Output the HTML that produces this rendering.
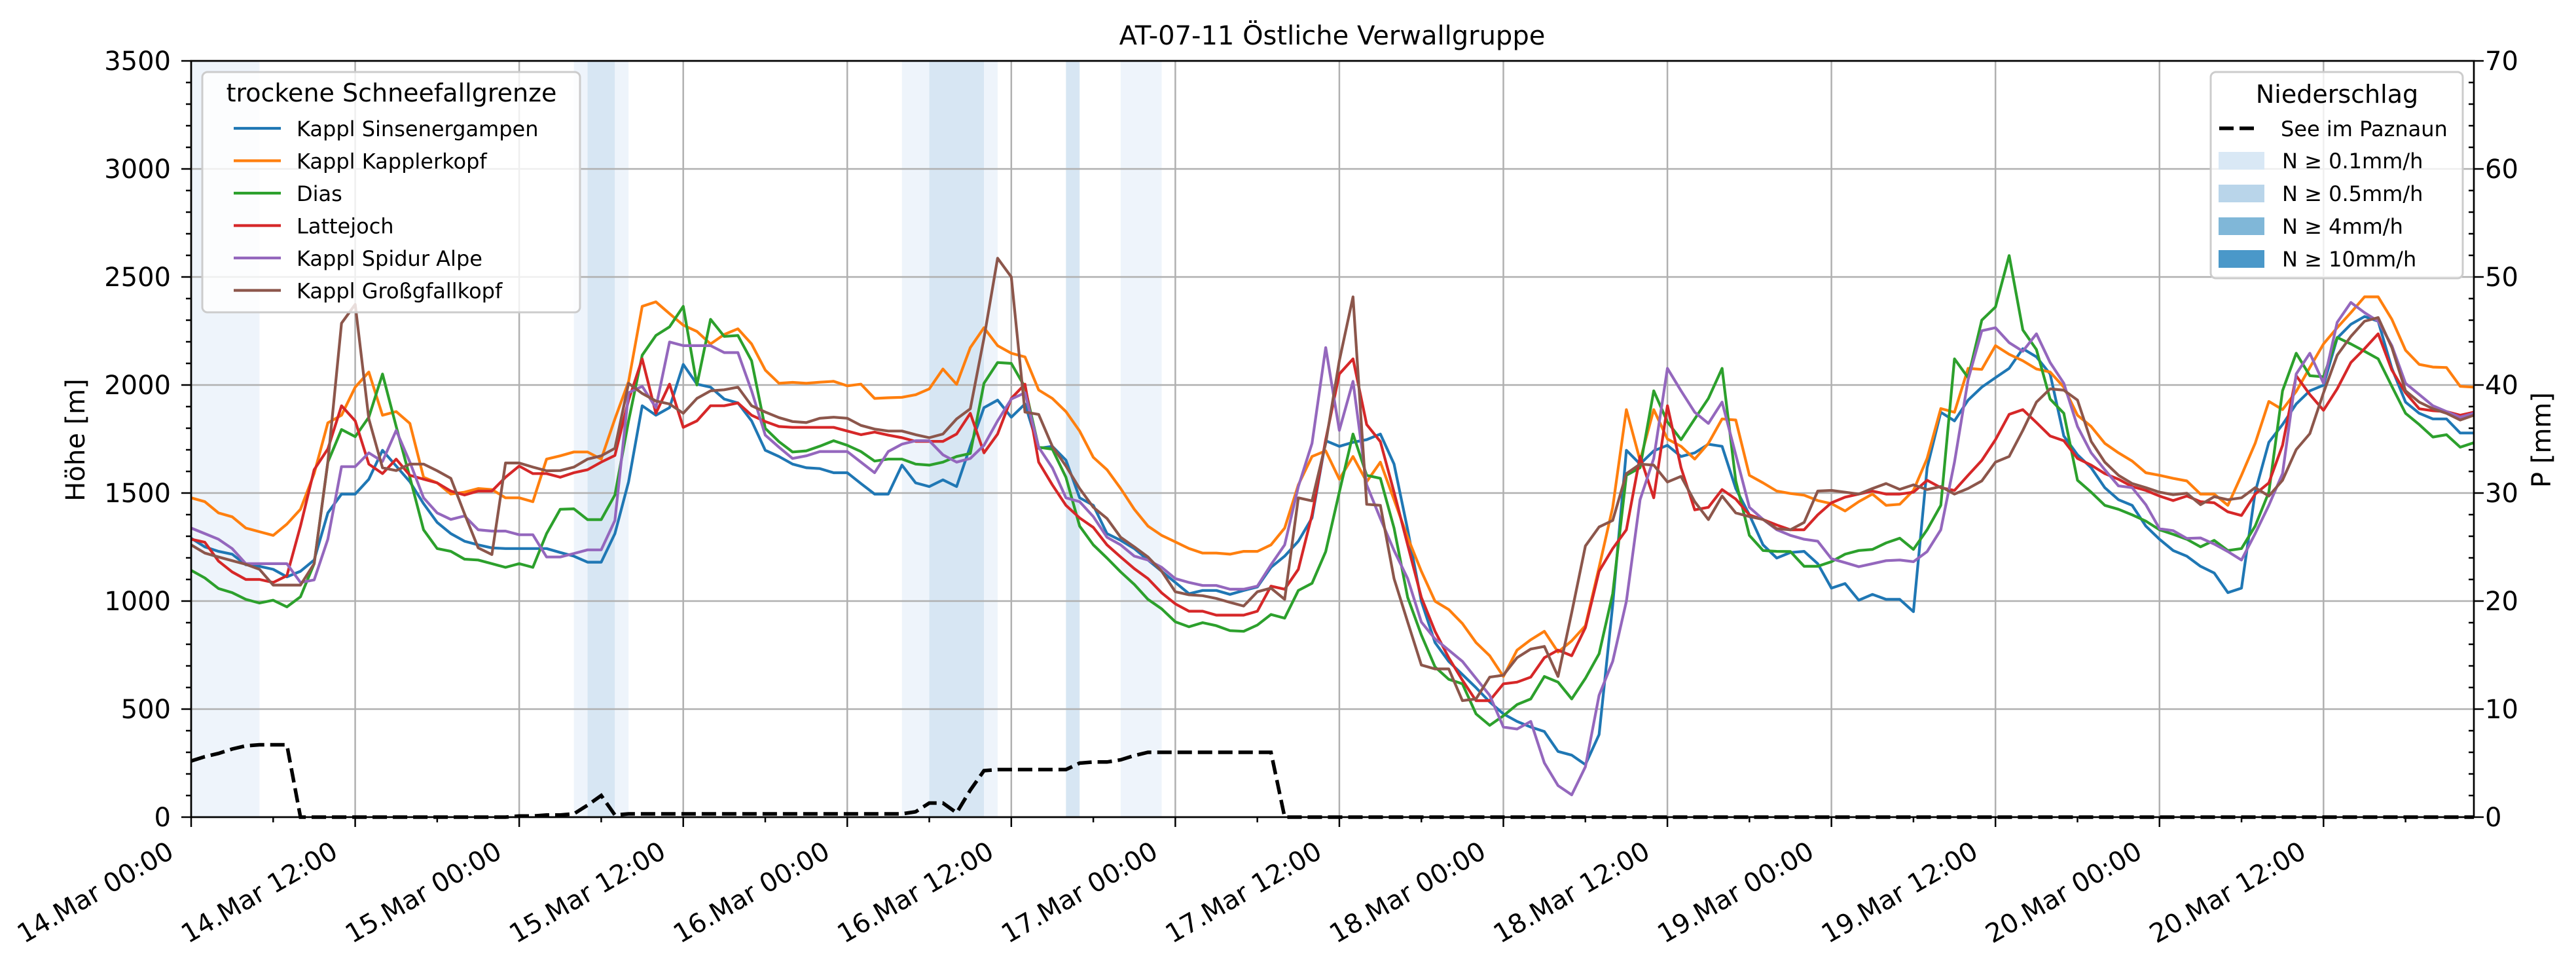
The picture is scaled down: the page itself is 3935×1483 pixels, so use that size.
<!DOCTYPE html>
<html><head><meta charset="utf-8"><title>AT-07-11 Östliche Verwallgruppe</title>
<style>
html,body{margin:0;padding:0;background:#fff;}
svg{display:block;font-family:"DejaVu Sans","Liberation Sans",sans-serif;}
</style></head>
<body>
<svg id="chart" xmlns="http://www.w3.org/2000/svg" width="3935" height="1483" viewBox="0 0 3935 1483">
<rect x="0" y="0" width="3935" height="1483" fill="#ffffff"/>
<text x="2035" y="68" font-size="40" text-anchor="middle">AT-07-11 Östliche Verwallgruppe</text>
<text x="0" y="0" font-size="40" text-anchor="middle" transform="translate(129,672) rotate(-90)">Höhe [m]</text>
<text x="0" y="0" font-size="40" text-anchor="middle" transform="translate(3896,672) rotate(-90)">P [mm]</text>
<g id="bands"></g>
<g id="grid"></g>
<g id="series"></g>
<g id="axes"></g>
<g id="legends"></g>
</svg>
<script>
// ---- data ----
const xTickLabels = ["14.Mar 00:00","14.Mar 12:00","15.Mar 00:00","15.Mar 12:00","16.Mar 00:00","16.Mar 12:00","17.Mar 00:00","17.Mar 12:00","18.Mar 00:00","18.Mar 12:00","19.Mar 00:00","19.Mar 12:00","20.Mar 00:00","20.Mar 12:00"];
const yTicks = [0,500,1000,1500,2000,2500,3000,3500];
const y2Ticks = [0,10,20,30,40,50,60,70];
const seriesNames = ["Kappl Sinsenergampen","Kappl Kapplerkopf","Dias","Lattejoch","Kappl Spidur Alpe","Kappl Großgfallkopf"];
const seriesColors = ["#1f77b4","#ff7f0e","#2ca02c","#d62728","#9467bd","#8c564b"];
const sinsenergampen = [1291,1251,1230,1217,1168,1161,1147,1112,1138,1190,1408,1495,1495,1564,1698,1625,1552,1451,1364,1312,1277,1260,1246,1243,1243,1243,1243,1225,1208,1180,1180,1312,1552,1904,1860,1895,2095,2004,1990,1935,1917,1834,1698,1669,1634,1617,1613,1594,1594,1544,1495,1495,1629,1547,1530,1561,1530,1717,1895,1930,1851,1912,1707,1716,1652,1478,1443,1312,1281,1243,1190,1138,1086,1034,1049,1049,1031,1049,1065,1156,1208,1277,1385,1742,1716,1735,1747,1773,1634,1330,999,808,721,660,599,533,478,443,417,396,304,287,243,382,982,1698,1634,1695,1721,1669,1686,1726,1716,1521,1399,1260,1199,1225,1230,1173,1060,1081,1004,1031,1008,1008,951,1617,1874,1834,1930,1990,2034,2077,2168,2130,2051,1764,1677,1617,1525,1469,1443,1347,1286,1234,1208,1161,1130,1039,1060,1504,1735,1817,1912,1973,1999,2217,2281,2317,2295,2077,1921,1869,1843,1843,1778,1778];
const kapplerkopf = [1478,1460,1408,1390,1338,1321,1304,1356,1425,1590,1825,1860,1990,2060,1860,1877,1822,1573,1547,1495,1504,1521,1516,1478,1478,1460,1657,1672,1690,1690,1657,1843,2016,2364,2385,2330,2277,2248,2190,2234,2260,2190,2069,2008,2012,2008,2013,2017,1996,2004,1938,1941,1943,1955,1982,2074,2003,2173,2265,2182,2147,2130,1977,1938,1877,1787,1665,1608,1521,1425,1347,1304,1274,1243,1222,1222,1217,1230,1230,1260,1338,1538,1669,1695,1564,1669,1552,1643,1469,1295,1138,999,961,896,808,747,651,773,821,860,764,816,886,1156,1434,1886,1651,1886,1750,1716,1657,1730,1843,1838,1582,1547,1509,1498,1490,1465,1451,1417,1460,1495,1443,1448,1512,1660,1891,1874,2077,2072,2182,2142,2112,2074,2060,1990,1860,1808,1730,1686,1648,1594,1582,1568,1556,1495,1495,1443,1582,1730,1924,1886,1970,2081,2190,2265,2335,2408,2408,2304,2161,2095,2083,2081,1994,1990];
const dias = [1142,1107,1058,1039,1008,991,1004,973,1020,1173,1643,1794,1761,1851,2051,1808,1573,1330,1243,1230,1194,1190,1173,1156,1173,1156,1312,1425,1427,1377,1377,1491,1834,2138,2229,2269,2364,2000,2304,2225,2229,2112,1799,1738,1690,1695,1717,1742,1721,1692,1648,1657,1657,1634,1629,1643,1669,1683,2008,2104,2100,1990,1712,1703,1573,1347,1260,1199,1135,1077,1008,964,904,881,900,886,863,860,889,938,921,1049,1082,1229,1504,1773,1582,1568,1338,1017,843,695,638,617,478,425,469,521,547,651,625,547,642,756,1034,1582,1617,1973,1829,1747,1843,1938,2077,1556,1304,1234,1230,1229,1161,1161,1182,1217,1234,1239,1269,1291,1239,1330,1443,2121,2034,2300,2361,2599,2255,2164,1935,1869,1559,1504,1443,1425,1399,1370,1330,1309,1286,1251,1281,1234,1243,1347,1504,1973,2147,2043,2038,2220,2190,2156,2121,1994,1869,1817,1759,1770,1712,1733];
const lattejoch = [1286,1272,1185,1135,1100,1100,1086,1117,1347,1608,1704,1904,1834,1634,1590,1657,1582,1564,1547,1509,1491,1509,1509,1573,1625,1590,1590,1573,1594,1608,1643,1674,1930,2121,1869,2004,1804,1834,1904,1904,1917,1860,1831,1808,1804,1804,1804,1804,1787,1770,1782,1768,1756,1739,1739,1739,1773,1869,1686,1773,1938,2004,1643,1538,1443,1385,1341,1260,1204,1150,1104,1038,987,953,953,935,935,935,953,1069,1055,1147,1399,1747,2051,2121,1817,1738,1504,1260,1017,860,738,634,539,539,617,625,648,738,773,747,877,1138,1243,1330,1669,1478,1904,1617,1422,1434,1516,1472,1399,1377,1352,1330,1330,1399,1455,1481,1495,1509,1495,1495,1504,1559,1525,1512,1582,1651,1747,1864,1886,1826,1764,1742,1660,1629,1590,1564,1530,1512,1486,1465,1486,1460,1455,1413,1396,1495,1547,1721,2043,1956,1883,1982,2104,2168,2237,2069,1964,1890,1881,1877,1860,1874];
const spidurAlpe = [1338,1312,1286,1243,1173,1173,1173,1173,1086,1098,1286,1622,1622,1686,1646,1790,1643,1478,1408,1378,1394,1330,1324,1324,1307,1307,1204,1204,1220,1237,1237,1373,1964,1994,1895,2199,2182,2182,2182,2150,2150,1973,1768,1712,1660,1672,1692,1692,1692,1643,1594,1692,1726,1742,1742,1677,1643,1660,1721,1834,1935,1964,1712,1617,1478,1460,1391,1295,1260,1208,1190,1156,1104,1086,1072,1072,1055,1055,1069,1168,1260,1530,1730,2173,1790,2017,1538,1382,1234,1104,903,825,773,721,642,564,417,408,443,251,146,103,233,564,721,999,1469,1660,2077,1973,1874,1822,1921,1677,1434,1378,1330,1304,1286,1277,1196,1178,1159,1173,1187,1190,1182,1229,1330,1643,2025,2251,2265,2196,2156,2237,2104,2008,1808,1686,1608,1533,1525,1446,1335,1326,1290,1292,1264,1229,1190,1312,1443,1590,2051,2147,2008,2290,2382,2335,2295,2182,2008,1956,1904,1877,1851,1869];
const grossgfallkopf = [1260,1222,1204,1187,1170,1147,1074,1074,1074,1173,1643,2286,2373,1843,1617,1604,1634,1634,1603,1568,1404,1246,1215,1639,1639,1620,1603,1604,1620,1657,1672,1707,2008,1961,1926,1912,1869,1938,1973,1978,1990,1904,1875,1849,1831,1826,1846,1851,1846,1813,1796,1787,1787,1770,1756,1773,1843,1890,2217,2587,2500,1875,1864,1716,1625,1521,1434,1382,1295,1251,1204,1138,1043,1029,1025,1012,994,977,1043,1060,1008,1478,1464,1730,2112,2408,1448,1443,1104,903,704,686,686,539,547,648,657,738,778,790,651,947,1255,1343,1373,1590,1634,1629,1551,1577,1460,1377,1486,1408,1391,1378,1335,1330,1364,1509,1512,1504,1495,1521,1544,1517,1538,1516,1530,1495,1521,1556,1643,1669,1790,1921,1982,1976,1930,1739,1643,1582,1544,1525,1504,1492,1499,1446,1483,1469,1478,1525,1486,1559,1701,1775,1964,2138,2225,2295,2312,2173,1973,1921,1890,1869,1838,1860];
const precipSee = [5.2,5.6,5.9,6.3,6.6,6.7,6.7,6.7,0,0,0,0,0,0,0,0,0,0,0,0,0,0,0,0,0.1,0.1,0.2,0.2,0.3,1.1,2.0,0.2,0.3,0.3,0.3,0.3,0.3,0.3,0.3,0.3,0.3,0.3,0.3,0.3,0.3,0.3,0.3,0.3,0.3,0.3,0.3,0.3,0.3,0.5,1.3,1.3,0.4,2.5,4.3,4.4,4.4,4.4,4.4,4.4,4.4,5.0,5.1,5.1,5.3,5.7,6.0,6.0,6.0,6.0,6.0,6.0,6.0,6.0,6.0,6.0,0,0,0,0,0,0,0,0,0,0,0,0,0,0,0,0,0,0,0,0,0,0,0,0,0,0,0,0,0,0,0,0,0,0,0,0,0,0,0,0,0,0,0,0,0,0,0,0,0,0,0,0,0,0,0,0,0,0,0,0,0,0,0,0,0,0,0,0,0,0,0,0,0,0,0,0,0,0,0,0,0,0,0,0,0,0,0,0];
const bandStarts = [0,28,29,31,52,54,58,64,68];
const bandEnds   = [5,29,31,32,54,58,59,65,71];
const bandLevels = [0,0,1,0,0,1,0,1,0];
const precipLegendLabels = ["N ≥ 0.1mm/h","N ≥ 0.5mm/h","N ≥ 4mm/h","N ≥ 10mm/h"];

// ---- geometry ----
const NS="http://www.w3.org/2000/svg";
const L=292,R=3779,T=93,B=1248,HMAX=167;
const xs=h=>L+(R-L)*h/HMAX;
const ys=v=>B-(B-T)*v/3500;
const ys2=p=>B-(B-T)*p/70;
function mk(tag,attrs,parent){const e=document.createElementNS(NS,tag);for(const k in attrs)e.setAttribute(k,attrs[k]);parent.appendChild(e);return e;}
const gB=document.getElementById('bands'),gG=document.getElementById('grid'),gS=document.getElementById('series'),gA=document.getElementById('axes'),gL=document.getElementById('legends');
const bandFill=["#eef4fb","#d7e6f3"];

bandStarts.forEach((s,i)=>{
  const r=mk('rect',{x:xs(s),y:T,width:xs(bandEnds[i])-xs(s),height:B-T,fill:bandFill[bandLevels[i]]},gB);
  
  
});
// grid
xTickLabels.forEach((lab,i)=>{
  const x=xs(i*12);
  const l=mk('line',{x1:x,x2:x,y1:T,y2:B,stroke:"#b0b0b0","stroke-width":2.5},gG);
  
  
});
yTicks.forEach(v=>{
  const y=ys(v);
  const l=mk('line',{x1:L,x2:R,y1:y,y2:y,stroke:"#b0b0b0","stroke-width":2.5},gG);
  
  
});
// series
const allSeries=[sinsenergampen,kapplerkopf,dias,lattejoch,spidurAlpe,grossgfallkopf];
allSeries.forEach((arr,si)=>{
  const pts=arr.map((v,h)=>xs(h).toFixed(1)+","+ys(v).toFixed(1)).join(" ");
  const p=mk('polyline',{points:pts,fill:"none",stroke:seriesColors[si],"stroke-width":4.2,"stroke-linejoin":"round"},gS);
  
  
});
{
  const pts=precipSee.map((v,h)=>xs(h).toFixed(1)+","+ys2(v).toFixed(1)).join(" ");
  const p=mk('polyline',{points:pts,fill:"none",stroke:"#000","stroke-width":5.5,"stroke-dasharray":"22 9"},gS);
  
  
}
// axes frame
const fr=mk('rect',{x:L,y:T,width:R-L,height:B-T,fill:"none",stroke:"#000","stroke-width":2.7},gA);


// x ticks
for(let h=0;h<=HMAX;h+=6){
  const x=xs(h),maj=h%12===0;
  const t=mk('line',{x1:x,x2:x,y1:B,y2:B+(maj?15:8),stroke:"#000","stroke-width":2.5},gA);
  
  
}
xTickLabels.forEach((lab,i)=>{
  const x=xs(i*12)-24,y=1308;
  const t=mk('text',{x:0,y:0,"font-size":40,"text-anchor":"end",transform:`translate(${x},${y}) rotate(-30)`},gA);
  t.textContent=lab;
  
  
});
// y ticks
for(let v=0;v<=3500;v+=100){
  const y=ys(v),maj=v%500===0;
  const t=mk('line',{x1:L-(maj?15:8),x2:L,y1:y,y2:y,stroke:"#000","stroke-width":2.5},gA);
  
  
}
yTicks.forEach(v=>{
  const t=mk('text',{x:261,y:ys(v)+14,"font-size":40,"text-anchor":"end"},gA);
  t.textContent=String(v);
  
  
});
for(let p=0;p<=70;p+=2){
  const y=ys2(p),maj=p%10===0;
  const t=mk('line',{x1:R-(maj?0:8),x2:R+(maj?15:0),y1:y,y2:y,stroke:"#000","stroke-width":2.5},gA);
  
  
}
y2Ticks.forEach(p=>{
  const t=mk('text',{x:3796,y:ys2(p)+14,"font-size":40,"text-anchor":"start"},gA);
  t.textContent=String(p);
  
  
});
// legend 1
{
  const g=mk('g',{},gL);
  
  
  mk('rect',{x:309,y:110,width:577,height:367,rx:8,fill:"#fff","fill-opacity":0.8,stroke:"#cccccc","stroke-width":3},g);
  const tt=mk('text',{x:598,y:155,"font-size":38,"text-anchor":"middle"},g);
  tt.textContent="trockene Schneefallgrenze";
  
  
  seriesNames.forEach((n,i)=>{
    const by=208+i*49.5;
    const ln=mk('line',{x1:357,x2:429,y1:by-12,y2:by-12,stroke:seriesColors[i],"stroke-width":4.2},g);
    
    
    const tx=mk('text',{x:453,y:by,"font-size":32},g);
    tx.textContent=n;
    
    
  });
}
// legend 2
{
  const g=mk('g',{},gL);
  
  
  mk('rect',{x:3377,y:110,width:385,height:315,rx:8,fill:"#fff","fill-opacity":0.8,stroke:"#cccccc","stroke-width":3},g);
  const tt=mk('text',{x:3570,y:157,"font-size":38,"text-anchor":"middle"},g);
  tt.textContent="Niederschlag";
  
  
  const dl=mk('line',{x1:3390,x2:3448,y1:196,y2:196,stroke:"#000","stroke-width":5.5,"stroke-dasharray":"22 9"},g);
  
  
  const st=mk('text',{x:3484,y:208,"font-size":32},g);
  st.textContent="See im Paznaun";
  
  
  const patchCols=["#d9e8f5","#b9d5ea","#80b7d8","#4a98c9"];
  precipLegendLabels.forEach((lab,i)=>{
    const by=257+i*50;
    const r=mk('rect',{x:3389,y:by-25,width:70,height:27,fill:patchCols[i]},g);
    
    
    const tx=mk('text',{x:3486,y:by,"font-size":32},g);
    tx.textContent=lab;
    
    
  });
}
</script>
</body></html>
